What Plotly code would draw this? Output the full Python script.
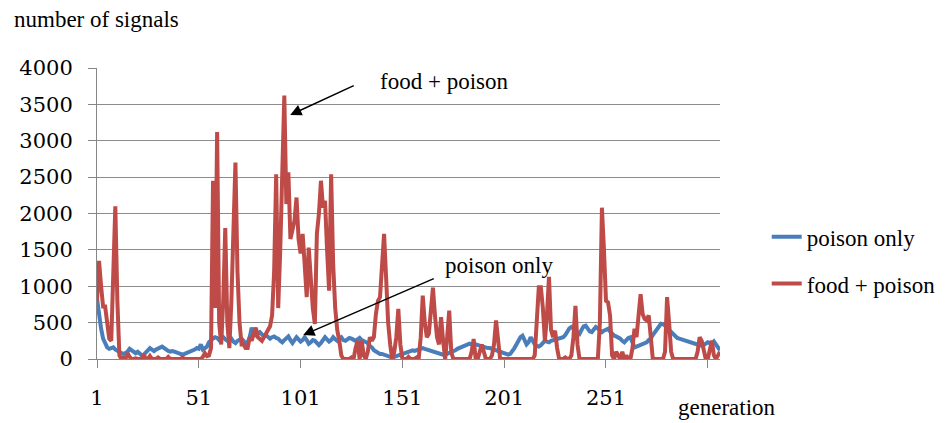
import plotly.graph_objects as go

generations = list(range(1, 308))

poison_only = [
    830, 600, 420, 280, 200, 160, 140, 150, 160, 130,
    110, 100, 80, 70, 80, 100, 140, 120, 90, 80,
    100, 70, 50, 60, 90, 120, 150, 130, 110, 130,
    140, 160, 170, 150, 120, 110, 100, 110, 100, 90,
    80, 70, 60, 70, 80, 90, 100, 120, 130, 150,
    140, 200, 130, 150, 170, 230, 260, 280, 300, 290,
    260, 280, 300, 270, 250, 260, 280, 240, 220, 250,
    270, 280, 250, 210, 230, 300, 430, 360, 330, 350,
    370, 340, 310, 330, 300, 280, 300, 310, 290, 280,
    250, 230, 260, 290, 310, 260, 220, 260, 300, 270,
    240, 260, 300, 260, 210, 230, 260, 250, 220, 190,
    220, 250, 300, 270, 240, 260, 300, 270, 250, 280,
    300, 260, 250, 270, 290, 280, 260, 250, 270, 290,
    260, 250, 240, 220, 180, 160, 120, 100, 80, 70,
    70, 60, 50, 40, 30, 20, 30, 40, 50, 60,
    80, 90, 90, 100, 110, 120, 110, 120, 130, 140,
    150, 140, 130, 120, 110, 100, 90, 80, 70, 70,
    60, 60, 70, 80, 90, 100, 120, 140, 150, 160,
    170, 180, 200, 210, 200, 190, 200, 190, 180, 170,
    160, 160, 150, 150, 140, 140, 130, 120, 100, 90,
    80, 70, 60, 70, 100, 150, 200, 250, 300, 320,
    250, 200, 230, 300, 250, 200, 180, 170, 190, 230,
    250, 240, 230, 250, 260, 270, 270, 290, 300, 300,
    330, 380, 420, 440, 420, 400, 370, 345, 400, 450,
    460, 420, 380, 370, 400, 440, 420, 390, 370, 390,
    410, 415, 380, 340, 320, 310, 300, 280, 250, 230,
    260, 290, 300, 220, 160, 170, 180, 190, 200, 210,
    230, 260, 280, 330, 370, 400, 450, 485, 480, 460,
    440, 400, 370, 330, 300, 290, 280, 270, 260, 250,
    240, 230, 220, 210, 200, 195, 190, 185, 190, 210,
    230, 220, 210, 240, 200, 160, 120,
]

food_poison = [
    800, 1350, 1000, 720, 720, 500, 280, 250, 1000, 2100,
    800, 50, 0, 20, 0, 80, 30, 0, 0, 10,
    0, 0, 0, 60, 0, 0, 40, 0, 0, 0,
    20, 0, 0, 0, 0, 30, 0, 0, 0, 0,
    0, 0, 20, 0, 0, 0, 0, 0, 10, 0,
    0, 0, 30, 80, 40, 50, 150, 2450, 700, 3120,
    500, 200, 800, 1800, 500, 150, 800, 2000, 2700, 1200,
    500, 200, 200, 150, 150, 300, 250, 350, 430, 300,
    280, 250, 300, 350, 420, 450, 600, 1200, 2540, 700,
    1500, 2700, 3620, 2130, 2565, 1650, 1800, 1900, 2220, 1650,
    1450, 1720, 1300, 850, 1530, 1000, 700, 480, 1720, 2000,
    2450, 2080, 2175, 1500, 940, 2540, 1300, 700, 400, 250,
    50, 0, 0, 0, 0, 20, 0, 150, 250, 0,
    250, 50, 0, 100, 300, 250, 300, 620, 800, 850,
    1200, 1720, 1120, 500, 200, 0, 100, 300, 690, 200,
    0, 0, 0, 30, 0, 0, 0, 20, 0, 300,
    870, 500, 300, 350, 700, 980, 600, 300, 200, 575,
    250, 0, 300, 665, 100, 0, 0, 0, 0, 0,
    0, 0, 0, 0, 100, 275, 0, 0, 100, 200,
    100, 0, 0, 0, 50, 200, 530, 300, 0, 0,
    0, 0, 0, 0, 0, 0, 0, 0, 0, 0,
    0, 0, 0, 0, 0, 50, 600, 985, 985, 700,
    250, 600, 1130, 400, 300, 390, 150, 0, 0, 0,
    20, 0, 0, 50, 300, 730, 200, 0, 0, 0,
    0, 0, 0, 0, 0, 0, 0, 500, 2080, 1500,
    800, 780, 600, 50, 0, 100, 50, 0, 100, 0,
    50, 0, 0, 150, 415, 300, 600, 890, 620, 550,
    530, 600, 300, 0, 0, 0, 0, 0, 0, 100,
    850, 500, 100, 0, 0, 0, 0, 0, 0, 0,
    0, 0, 0, 0, 0, 100, 300, 250, 100, 0,
    0, 150, 250, 50, 0, 50, 100,
]

x_tick_values = [1, 51, 101, 151, 201, 251, 301]
x_tick_labels = ["1", "51", "101", "151", "201", "251", ""]

serif = "Liberation Serif"
num_font = "DejaVu Serif"

fig = go.Figure()
fig.add_trace(go.Scatter(
    x=generations, y=poison_only, mode="lines", name="poison only",
    legendgroup="a",
    line=dict(color="#4A7EBB", width=4),
))
fig.add_trace(go.Scatter(
    x=generations, y=food_poison, mode="lines", name="food + poison",
    legendgroup="b",
    line=dict(color="#BE4B48", width=4),
))

fig.update_layout(
    width=940, height=415,
    margin=dict(l=89, r=228, t=60, b=64, autoexpand=False),
    paper_bgcolor="white", plot_bgcolor="white",
    showlegend=True,
    legend=dict(
        x=1.075, y=0.494, xanchor="left", yanchor="top",
        font=dict(family=serif, size=23, color="black"),
        tracegroupgap=14, bgcolor="rgba(0,0,0,0)",
    ),
    xaxis=dict(
        range=[1, 307], tickvals=x_tick_values, ticktext=x_tick_labels,
        showgrid=False, zeroline=False, automargin=False,
        showline=True, linecolor="#868686", linewidth=1,
        ticks="outside", ticklen=8, tickcolor="#868686",
        tickfont=dict(family=num_font, size=21, color="black"),
        ticklabelstandoff=12,
    ),
    yaxis=dict(
        range=[0, 4000], dtick=500,
        showgrid=True, gridcolor="#8C8C8C", gridwidth=1,
        zeroline=False, automargin=False,
        showline=True, linecolor="#868686", linewidth=1,
        ticks="outside", ticklen=8, tickcolor="#868686",
        tickfont=dict(family=num_font, size=21, color="black"),
        ticklabelstandoff=11,
    ),
    annotations=[
        dict(text="number of signals", xref="paper", yref="paper",
             x=-0.137, y=1.165, xanchor="left", yanchor="middle",
             showarrow=False, font=dict(family=serif, size=23, color="black")),
        dict(text="generation", xref="paper", yref="paper",
             x=0.929, y=-0.168, xanchor="left", yanchor="middle",
             showarrow=False, font=dict(family=serif, size=23, color="black")),
        dict(text="food + poison", xref="paper", yref="paper",
             x=0.451, y=0.952, xanchor="left", yanchor="middle",
             showarrow=False, font=dict(family=serif, size=23, color="black")),
        dict(text="poison only", xref="paper", yref="paper",
             x=0.555, y=0.323, xanchor="left", yanchor="middle",
             showarrow=False, font=dict(family=serif, size=23, color="black")),
        dict(text="", x=95.9, y=3355, xref="x", yref="y",
             showarrow=True, ax=65, ay=-30, arrowhead=2, arrowsize=1.5,
             arrowwidth=1.5, arrowcolor="black"),
        dict(text="", x=102.3, y=330, xref="x", yref="y",
             showarrow=True, ax=132, ay=-57, arrowhead=2, arrowsize=1.5,
             arrowwidth=1.5, arrowcolor="black"),
    ],
)

fig.write_html("out.html")
